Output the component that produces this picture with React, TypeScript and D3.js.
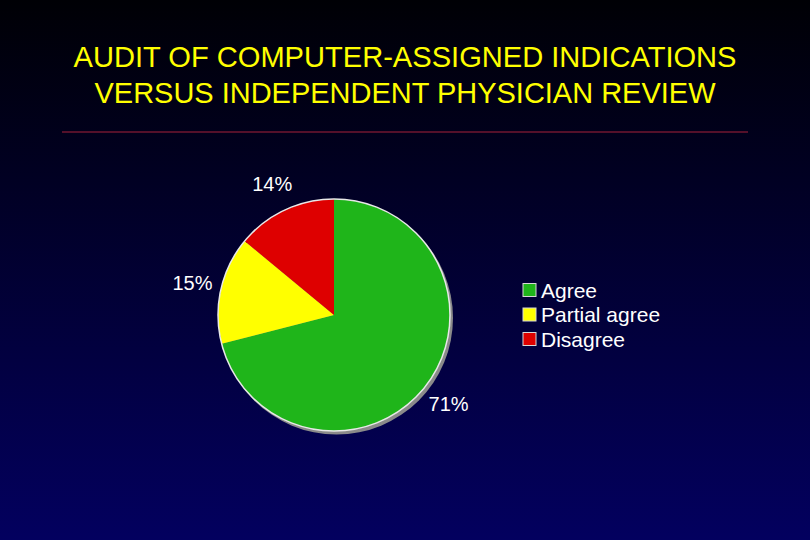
import { useRef, useEffect } from 'react';
import * as d3 from 'd3';

const WIDTH = 810;
const HEIGHT = 540;

const titleLines = ['AUDIT OF COMPUTER-ASSIGNED INDICATIONS', 'VERSUS INDEPENDENT PHYSICIAN REVIEW'];
const categories = ['Agree', 'Partial agree', 'Disagree'];
const values = [71, 15, 14];
const colors = ['#1fb51a', '#ffff00', '#de0000'];

const App = () => {
  const svgRef = useRef<SVGSVGElement>(null);

  useEffect(() => {
    const svg = d3.select(svgRef.current);
    svg.selectAll('*').remove();

    const font = 'Liberation Sans, Arial, sans-serif';

    // background gradient, black at top to navy at bottom
    const grad = svg.append('defs').append('linearGradient')
      .attr('id', 'bg')
      .attr('x1', 0).attr('y1', 0).attr('x2', 0).attr('y2', 1);
    grad.append('stop').attr('offset', '0%').attr('stop-color', '#000005');
    grad.append('stop').attr('offset', '100%').attr('stop-color', '#03005f');

    svg.append('rect')
      .attr('width', WIDTH)
      .attr('height', HEIGHT)
      .attr('fill', 'url(#bg)');

    // title (condensed face in the original, squeezed to fit)
    const titleWidths = [663, 621];
    svg.selectAll('text.title')
      .data(titleLines)
      .join('text')
      .attr('class', 'title')
      .attr('x', WIDTH / 2)
      .attr('y', (d, i) => 67 + i * 36)
      .attr('text-anchor', 'middle')
      .attr('fill', '#ffff00')
      .attr('font-family', '"Liberation Sans Narrow", ' + font)
      .attr('font-size', 29)
      .attr('textLength', (d, i) => titleWidths[i])
      .attr('lengthAdjust', 'spacingAndGlyphs')
      .text(d => d);

    svg.append('line')
      .attr('x1', 62).attr('x2', 748)
      .attr('y1', 132).attr('y2', 132)
      .attr('stroke', '#a8203a')
      .attr('stroke-width', 1);

    // pie
    const cx = 334;
    const cy = 315;
    const radius = 116;

    const pie = d3.pie<number>().sort(null).value(d => d);
    const arcs = pie(values);
    const arc = d3.arc<d3.PieArcDatum<number>>().innerRadius(0).outerRadius(radius);
    const labelArc = d3.arc<d3.PieArcDatum<number>>().innerRadius(145).outerRadius(145);

    const g = svg.append('g').attr('transform', `translate(${cx},${cy})`);

    g.append('circle')
      .attr('cx', 2.5).attr('cy', 3)
      .attr('r', radius + 0.5)
      .attr('fill', '#8a8a8a');

    g.selectAll('path.slice')
      .data(arcs)
      .join('path')
      .attr('class', 'slice')
      .attr('d', arc)
      .attr('fill', (d, i) => colors[i]);

    g.append('circle')
      .attr('r', radius)
      .attr('fill', 'none')
      .attr('stroke', '#e8e8e8')
      .attr('stroke-width', 1.5);

    g.selectAll('text.label')
      .data(arcs)
      .join('text')
      .attr('class', 'label')
      .attr('x', d => labelArc.centroid(d)[0])
      .attr('y', d => labelArc.centroid(d)[1])
      .attr('text-anchor', 'middle')
      .attr('dominant-baseline', 'central')
      .attr('fill', '#ffffff')
      .attr('font-family', font)
      .attr('font-size', 20)
      .text(d => `${d.data}%`);

    // legend
    const y = d3.scalePoint<string>().domain(categories).range([290, 339]);
    const legend = svg.append('g');
    const rows = legend.selectAll('g')
      .data(categories)
      .join('g')
      .attr('transform', d => `translate(523,${y(d)})`);

    rows.append('rect')
      .attr('x', 0).attr('y', -6.5)
      .attr('width', 13).attr('height', 13)
      .attr('fill', (d, i) => colors[i])
      .attr('stroke', '#d8d8d8')
      .attr('stroke-width', 1);

    rows.append('text')
      .attr('x', 18)
      .attr('y', 0)
      .attr('dominant-baseline', 'central')
      .attr('fill', '#ffffff')
      .attr('font-family', font)
      .attr('font-size', 21)
      .text(d => d);
  }, []);

  return (
    <svg ref={svgRef} width={WIDTH} height={HEIGHT} style={{ position: 'absolute', left: 0, top: 0 }}></svg>
  );
};

export default App;
